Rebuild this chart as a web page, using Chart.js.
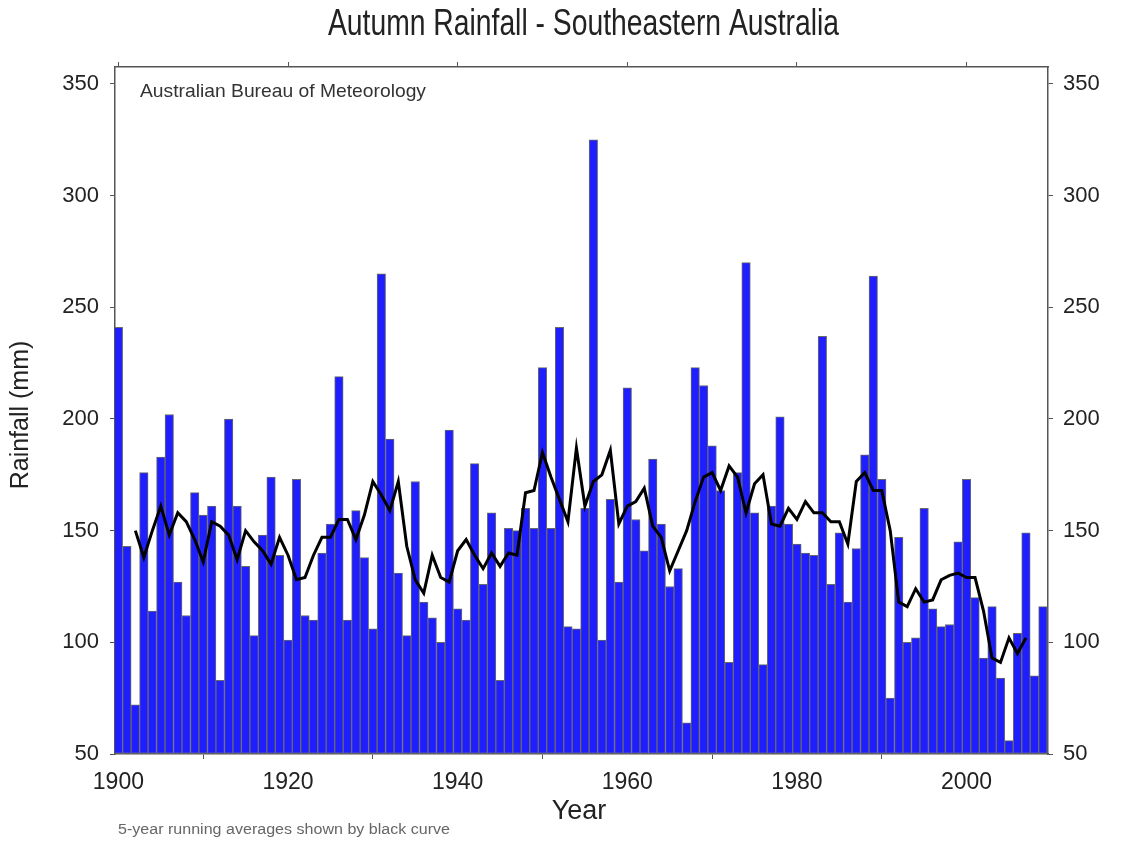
<!DOCTYPE html>
<html>
<head>
<meta charset="utf-8">
<script src="https://cdn.jsdelivr.net/npm/chart.js@4"></script>
<style>
  html, body { margin: 0; padding: 0; background: #fff; }
  #wrap { width: 1121px; height: 842px; position: relative; }
</style>
</head>
<body>
<div id="wrap"><canvas id="chart" width="1121" height="842"></canvas></div>
<script>
// autumn rainfall (mm), one bar per year from 1900
const firstYear = 1900;
const rainfall = [
  241, 143, 72, 176, 114, 183, 202, 127, 112, 167,
  157, 161, 83, 200, 161, 134, 103, 148, 174, 139,
  101, 173, 112, 110, 140, 153, 219, 110, 159, 138,
  106, 265, 191, 131, 103, 172, 118, 111, 100, 195,
  115, 110, 180, 126, 158, 83, 151, 150, 160, 151,
  223, 151, 241, 107, 106, 160, 325, 101, 164, 127,
  214, 155, 141, 182, 153, 125, 133, 64, 223, 215,
  188, 168, 91, 176, 270, 158, 90, 161, 201, 153,
  144, 140, 139, 237, 126, 149, 118, 142, 184, 264,
  173, 75, 147, 100, 102, 160, 115, 107, 108, 145,
  173, 120, 93, 116, 84, 56, 104, 149, 85, 116
];

// black curve, 1902 .. 2007
const avgStart = 1902;
const runningAvg = [
  150, 138, 150, 161, 148, 158, 154, 146,
  136, 154, 152, 148, 137, 150, 145, 141, 135, 147,
  139, 128, 129, 139, 147, 147, 155, 155, 146, 157,
  172, 166, 159, 172, 143, 128, 122, 139, 129, 127,
  141, 146, 139, 133, 140, 134, 140, 139, 167, 168,
  185, 174, 164, 154, 187, 161, 172, 175, 186, 153,
  161, 163, 169, 152, 147, 132, 141, 150, 163, 174,
  176, 168, 179, 174, 158, 171, 175, 153, 152, 160,
  155, 163, 158, 158, 154, 154, 144, 172, 176, 168,
  168, 150, 118, 116, 124, 118, 119, 128, 130, 131,
  129, 129, 114, 93, 91, 102, 95, 102
];

const yearTicks = [1900, 1920, 1940, 1960, 1980, 2000];
const rainTicks = [50, 100, 150, 200, 250, 300, 350];

const barPoints = rainfall.map((v, i) => ({ x: firstYear + i, y: v }));
const avgPoints = runningAvg.map((v, i) => ({ x: avgStart + i, y: v }));

const sans = "'Liberation Sans', Arial, sans-serif";
const frameCol = '#555';

function fixTicks(list) {
  return (scale) => { scale.ticks = list.map(v => ({ value: v })); };
}

function frameAxis(extra) {
  return Object.assign({
    border: { display: true, color: frameCol, width: 1.5 },
    grid: { drawOnChartArea: false, drawTicks: true, tickLength: 5, color: frameCol, lineWidth: 1 }
  }, extra);
}

// draw text squeezed/stretched to a given width (the original uses a narrow face)
function fitText(ctx, txt, x, y, width) {
  const w = ctx.measureText(txt).width;
  ctx.save();
  ctx.translate(x, y);
  ctx.scale(width / w, 1);
  ctx.textAlign = 'left';
  ctx.fillText(txt, 0, 0);
  ctx.restore();
}

// titles and notes drawn in the free margins
const textPlugin = {
  id: 'texts',
  afterDraw(chart) {
    const ctx = chart.ctx;
    ctx.save();
    ctx.fillStyle = '#222';
    ctx.textBaseline = 'middle';

    ctx.font = '37px ' + sans;
    fitText(ctx, 'Autumn Rainfall - Southeastern Australia', 328, 25, 511);

    ctx.textAlign = 'center';
    ctx.font = '27px ' + sans;
    ctx.fillText('Year', 579, 812);

    ctx.save();
    ctx.translate(21, 415);
    ctx.rotate(-Math.PI / 2);
    ctx.font = '25px ' + sans;
    ctx.fillText('Rainfall (mm)', 0, 0);
    ctx.restore();

    ctx.font = '19px ' + sans;
    ctx.fillStyle = '#333';
    fitText(ctx, 'Australian Bureau of Meteorology', 140, 92, 286);

    ctx.font = '14px ' + sans;
    ctx.fillStyle = '#666';
    fitText(ctx, '5-year running averages shown by black curve', 118, 830, 332);
    ctx.restore();
  }
};

new Chart(document.getElementById('chart'), {
  data: {
    datasets: [
      {
        type: 'line',
        label: '5-year running average',
        data: avgPoints,
        xAxisID: 'x',
        yAxisID: 'y',
        borderColor: '#000',
        borderWidth: 3,
        pointRadius: 0,
        tension: 0,
        order: 0
      },
      {
        type: 'bar',
        label: 'Autumn rainfall',
        data: barPoints,
        xAxisID: 'x',
        yAxisID: 'y',
        base: 50,
        backgroundColor: '#1e1eff',
        borderColor: '#6a6a6a',
        borderWidth: 1,
        borderSkipped: false,
        categoryPercentage: 1.0,
        barPercentage: 1.0,
        order: 1
      }
    ]
  },
  options: {
    responsive: false,
    animation: false,
    layout: { padding: 0 },
    plugins: {
      legend: { display: false },
      tooltip: { enabled: false },
      title: { display: false }
    },
    scales: {
      x: frameAxis({
        type: 'linear',
        position: 'bottom',
        min: 1899.6,
        max: 2009.6,
        offset: false,
        afterBuildTicks: fixTicks(yearTicks),
        afterFit: (s) => { s.height = 88; },
        ticks: {
          font: { family: sans, size: 23 }, color: '#222', padding: 10, maxRotation: 0,
          callback: (v) => String(v)
        }
      }),
      xTop: frameAxis({
        type: 'linear',
        position: 'top',
        min: 1899.6,
        max: 2009.6,
        offset: false,
        afterBuildTicks: fixTicks(yearTicks),
        afterFit: (s) => { s.height = 67; },
        ticks: { color: 'rgba(0,0,0,0)', font: { size: 10 } }
      }),
      y: frameAxis({
        type: 'linear',
        position: 'left',
        min: 50,
        max: 357.6,
        afterBuildTicks: fixTicks(rainTicks),
        afterFit: (s) => { s.width = 115; },
        ticks: { font: { family: sans, size: 22 }, color: '#222', padding: 11 }
      }),
      yRight: frameAxis({
        type: 'linear',
        position: 'right',
        min: 50,
        max: 357.6,
        afterBuildTicks: fixTicks(rainTicks),
        afterFit: (s) => { s.width = 73; },
        ticks: { font: { family: sans, size: 22 }, color: '#222', padding: 10 }
      })
    }
  },
  plugins: [textPlugin]
});
</script>
</body>
</html>
